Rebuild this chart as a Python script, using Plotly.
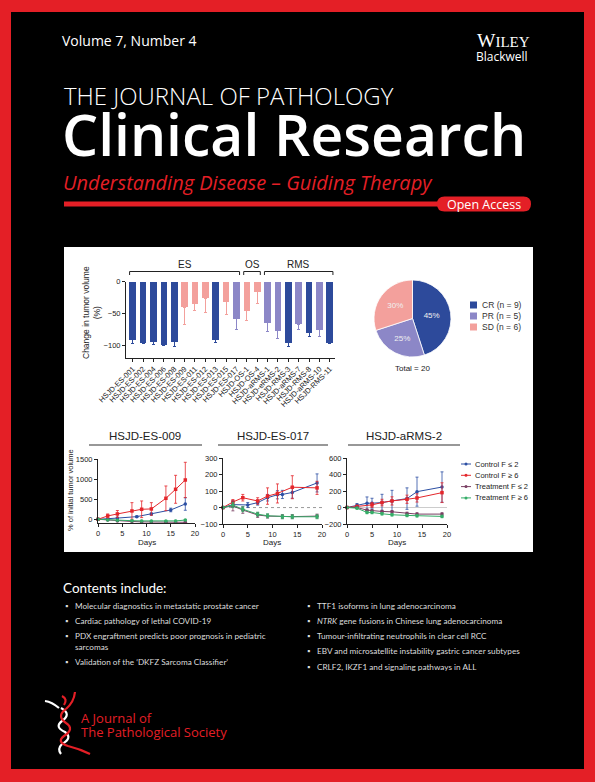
import plotly.graph_objects as go

W, H = 595, 782


def px(x):
    return x / W


def py(y):
    return 1 - y / H


# ---- waterfall bar data (change in tumor volume, %)
models = ["HSJD-ES-001", "HSJD-ES-002", "HSJD-ES-004", "HSJD-ES-006", "HSJD-ES-008",
          "HSJD-ES-009", "HSJD-ES-011", "HSJD-ES-012", "HSJD-ES-013", "HSJD-ES-015",
          "HSJD-ES-017", "HSJD-OS-1", "HSJD-OS-4", "HSJD-aRMS-1", "HSJD-eRMS-2",
          "HSJD-RMS-3", "HSJD-aRMS-7", "HSJD-RMS-8", "HSJD-aRMS-10", "HSJD-RMS-11"]
response = ["CR", "CR", "CR", "CR", "CR", "SD", "SD", "SD", "CR", "SD",
            "PR", "SD", "SD", "PR", "PR", "CR", "PR", "CR", "PR", "CR"]
volume_change = [-92, -96, -95, -99, -94, -40, -35, -26, -91, -32,
                 -58, -45, -15, -65, -77, -96, -67, -80, -76, -96]
volume_sd = [5, 2, 4, 2, 8, 28, 11, 23, 5, 20,
             18, 17, 19, 13, 12, 6, 8, 7, 11, 2]
groups = ["ES", "OS", "RMS"]
group_first = [0, 11, 13]
group_last = [10, 12, 19]

# ---- pie data
resp_codes = ["CR", "PR", "SD"]
resp_labels = ["CR (n = 9)", "PR (n = 5)", "SD (n = 6)"]
resp_counts = [9, 5, 6]

# ---- growth curves (% of initial tumor volume)
series_names = ["Control F \u2264 2", "Control F \u2265 6", "Treatment F \u2264 2", "Treatment F \u2265 6"]

es009_days = [[0, 2, 4, 8, 11, 15, 18],
              [0, 2, 4, 7, 9, 11, 14, 16, 18],
              [0, 2, 4, 7, 9, 11, 14, 16, 18],
              [0, 2, 4, 7, 9, 11, 14, 16, 18]]
es009_vals = [[0, 10, 30, 66, 133, 232, 381],
              [0, 83, 133, 207, 249, 257, 522, 746, 978],
              [0, -20, -40, -55, -65, -70, -75, -75, -75],
              [0, -15, -25, -35, -40, -45, -45, -40, -20]]
es009_err = [[0, 5, 10, 20, 25, 45, 157],
             [0, 50, 85, 207, 207, 157, 307, 348, 440],
             [0, 10, 10, 10, 10, 10, 10, 10, 10],
             [0, 10, 15, 15, 15, 15, 15, 15, 15]]

es017_days = [[0, 2, 5, 7, 9, 11, 12, 14, 19],
              [0, 2, 4, 7, 9, 11, 14, 19],
              [0, 2, 4, 7, 9, 12, 14, 19],
              [0, 2, 4, 7, 9, 12, 14, 19]]
es017_vals = [[0, 18, 16, 30, 60, 78, 80, 92, 150],
              [0, 34, 60, 40, 70, 86, 124, 120],
              [0, 10, -15, -45, -52, -55, -55, -52],
              [0, 15, -10, -40, -50, -56, -56, -56]]
es017_err = [[0, 15, 15, 15, 20, 25, 25, 35, 55],
             [0, 15, 20, 20, 50, 58, 70, 40],
             [0, 30, 20, 15, 12, 12, 12, 12],
             [0, 15, 15, 12, 12, 12, 12, 12]]

arms2_days = [[0, 2, 4, 5, 7, 9, 12, 14, 19],
              [0, 2, 5, 7, 9, 12, 14, 19],
              [0, 2, 4, 5, 7, 9, 12, 14, 19],
              [0, 2, 4, 5, 7, 9, 12, 14, 19]]
arms2_vals = [[0, 28, 52, 52, 60, 80, 108, 192, 248],
              [0, 12, 32, 60, 80, 100, 116, 180],
              [0, 0, -32, -40, -48, -52, -72, -80, -80],
              [0, -8, -60, -60, -76, -88, -96, -100, -108]]
arms2_err = [[0, 20, 76, 60, 100, 128, 130, 176, 184],
             [0, 15, 30, 40, 50, 50, 50, 120],
             [0, 10, 15, 15, 15, 15, 15, 15, 15],
             [0, 10, 15, 15, 15, 15, 15, 15, 15]]

contents_left = ["Molecular diagnostics in metastatic prostate cancer",
                 "Cardiac pathology of lethal COVID-19",
                 "PDX engraftment predicts poor prognosis in pediatric<br>sarcomas",
                 "Validation of the \u2018DKFZ Sarcoma Classifier\u2019"]
contents_right = ["TTF1 isoforms in lung adenocarcinoma",
                  "<i>NTRK</i> gene fusions in Chinese lung adenocarcinoma",
                  "Tumour-infiltrating neutrophils in clear cell RCC",
                  "EBV and microsatellite instability gastric cancer subtypes",
                  "CRLF2, IKZF1 and signaling pathways in ALL"]

RED = "#e41f26"
resp_colors = {"CR": "#2d4a9b", "PR": "#8c87c7", "SD": "#f3a09c"}
series_colors = ["#2c4fa3", "#e4262b", "#7a3f63", "#35ad68"]
TXT = "#222222"
CHART_FONT = "Liberation Sans"
HEAD_FONT = "Open Sans"
BODY_FONT = "Lato"

fig = go.Figure()

# bar chart, one trace per response class so error bars take the bar colour
for code in resp_codes:
    idx = [i for i, r in enumerate(response) if r == code]
    fig.add_trace(go.Bar(
        x=idx, y=[volume_change[i] for i in idx],
        marker=dict(color=resp_colors[code], line=dict(width=0)),
        width=0.64,
        error_y=dict(type="data", symmetric=False, array=[0] * len(idx),
                     arrayminus=[volume_sd[i] for i in idx], color=resp_colors[code],
                     thickness=1, width=1.5),
        xaxis="x", yaxis="y", showlegend=False,
    ))

# pie chart
fig.add_trace(go.Pie(
    labels=resp_labels, values=resp_counts, sort=False, direction="clockwise",
    rotation=0, marker=dict(colors=[resp_colors[c] for c in resp_codes],
                            line=dict(color="white", width=0.8)),
    texttemplate="%{percent:.0%}", textposition="inside",
    textfont=dict(family=CHART_FONT, size=8, color="#f0f0f0"),
    domain=dict(x=[px(374), px(451)], y=[py(357), py(280)]),
    showlegend=False,
))

# growth curves, three panels
panels = [("x2", "y2", es009_days, es009_vals, es009_err),
          ("x3", "y3", es017_days, es017_vals, es017_err),
          ("x4", "y4", arms2_days, arms2_vals, arms2_err)]
for xa, ya, days, vals, errs in panels:
    for i in range(4):
        fig.add_trace(go.Scatter(
            x=days[i], y=vals[i], mode="lines+markers", xaxis=xa, yaxis=ya,
            line=dict(color=series_colors[i], width=1),
            marker=dict(color=series_colors[i], size=3.5, symbol="square" if i == 1 else "circle"),
            error_y=dict(type="data", array=errs[i], color=series_colors[i], thickness=0.8, width=1.5),
            showlegend=False, cliponaxis=False,
        ))

ax_style = dict(showline=True, linecolor=TXT, linewidth=1, ticks="outside", ticklen=3,
                tickwidth=1, tickcolor=TXT, showgrid=False, zeroline=False, automargin=False,
                tickfont=dict(family=CHART_FONT, size=7.5, color=TXT))

fig.update_layout(
    width=W, height=H, margin=dict(l=0, r=0, t=0, b=0, autoexpand=False),
    paper_bgcolor=RED, plot_bgcolor="rgba(0,0,0,0)",
    bargap=0, barmode="overlay",
    xaxis=dict(ax_style, domain=[px(126), px(335)], range=[-0.646, 19.5],
               tickmode="array", tickvals=list(range(len(models))), ticktext=models,
               tickangle=-45, anchor="y"),
    yaxis=dict(ax_style, domain=[py(357.7), py(281.7)], range=[-120, 0],
               tickvals=[0, -50, -100], anchor="x"),
    xaxis2=dict(ax_style, domain=[px(98), px(195)], range=[0, 20], tickvals=[0, 5, 10, 15, 20], anchor="y2"),
    yaxis2=dict(ax_style, domain=[py(523.3), py(459)], range=[-100, 1500],
                tickvals=[0, 500, 1000, 1500], anchor="x2"),
    xaxis3=dict(ax_style, domain=[px(223), px(322)], range=[0, 20], tickvals=[0, 5, 10, 15, 20], anchor="y3"),
    yaxis3=dict(ax_style, domain=[py(524), py(458.3)], range=[-100, 300],
                tickvals=[-100, 0, 100, 200, 300], anchor="x3"),
    xaxis4=dict(ax_style, domain=[px(347), px(447)], range=[0, 20], tickvals=[0, 5, 10, 15, 20], anchor="y4"),
    yaxis4=dict(ax_style, domain=[py(524), py(458)], range=[-200, 600],
                tickvals=[-200, 0, 200, 400, 600], anchor="x4"),
)

shapes = []
# black cover field and white figure panel
shapes.append(dict(type="rect", xref="paper", yref="paper", x0=px(11), x1=px(584), y0=py(769), y1=py(12),
                   fillcolor="black", line=dict(width=0), layer="below"))
shapes.append(dict(type="rect", xref="paper", yref="paper", x0=px(64), x1=px(533), y0=py(552), y1=py(247),
                   fillcolor="white", line=dict(width=0), layer="below"))
# red rule and Open Access pill
shapes.append(dict(type="rect", xref="paper", yref="paper", x0=px(64), x1=px(440), y0=py(206.5), y1=py(201.5),
                   fillcolor=RED, line=dict(width=0)))
r = 7.5
x0, x1, y0, y1 = 437, 531, 196.5, 211.5
pill = (f"M {px(x0 + r)},{py(y0)} L {px(x1 - r)},{py(y0)} "
        f"Q {px(x1)},{py(y0)} {px(x1)},{py(y0 + r)} Q {px(x1)},{py(y1)} {px(x1 - r)},{py(y1)} "
        f"L {px(x0 + r)},{py(y1)} Q {px(x0)},{py(y1)} {px(x0)},{py(y0 + r)} "
        f"Q {px(x0)},{py(y0)} {px(x0 + r)},{py(y0)} Z")
shapes.append(dict(type="path", xref="paper", yref="paper", path=pill, fillcolor=RED, line=dict(width=0)))

# group brackets over the bars
for gi in range(len(groups)):
    a = group_first[gi] - 0.3
    b = group_last[gi] + 0.3
    for xx in (a, b):
        shapes.append(dict(type="line", xref="x", yref="paper", x0=xx, x1=xx, y0=py(275), y1=py(271.5),
                           line=dict(color=TXT, width=1)))
    shapes.append(dict(type="line", xref="x", yref="paper", x0=a, x1=b, y0=py(271.5), y1=py(271.5),
                       line=dict(color=TXT, width=1)))

# title underlines of the growth panels
for a, b in [(89, 202), (218, 328), (348, 460)]:
    shapes.append(dict(type="line", xref="paper", yref="paper", x0=px(a), x1=px(b), y0=py(445), y1=py(445),
                       line=dict(color="#333333", width=1.2)))

# reference lines at 0
shapes.append(dict(type="line", xref="x3", yref="y3", x0=0, x1=20, y0=0, y1=0,
                   line=dict(color="#999999", width=1, dash="dot"), layer="below"))
shapes.append(dict(type="line", xref="x4", yref="y4", x0=0, x1=20, y0=0, y1=0,
                   line=dict(color="#cccccc", width=1), layer="below"))

# pie legend squares
for i, code in enumerate(resp_codes):
    yy = 305 + i * 11
    shapes.append(dict(type="rect", xref="paper", yref="paper", x0=px(470), x1=px(477), y0=py(yy + 3.5),
                       y1=py(yy - 3.5), fillcolor=resp_colors[code], line=dict(width=0)))

# growth legend symbols
for i, name in enumerate(series_names):
    yy = 464 + i * 11.3
    shapes.append(dict(type="line", xref="paper", yref="paper", x0=px(461), x1=px(471), y0=py(yy), y1=py(yy),
                       line=dict(color=series_colors[i], width=1)))
    shapes.append(dict(type="circle", xref="paper", yref="paper", x0=px(464.5), x1=px(467.5),
                       y0=py(yy + 1.5), y1=py(yy - 1.5), fillcolor=series_colors[i],
                       line=dict(width=0)))


# society logo, a rough twisted figure
def path(pts):
    s = f"M {px(pts[0][0])},{py(pts[0][1])}"
    for k in range(1, len(pts) - 1, 2):
        s += f" Q {px(pts[k][0])},{py(pts[k][1])} {px(pts[k + 1][0])},{py(pts[k + 1][1])}"
    return s


white_strokes = [
    [(45, 701), (52, 702), (59, 708)],
    [(61, 708), (72, 714), (62, 721), (54, 727), (65, 732), (73, 738), (62, 744), (57, 749), (61, 754)],
]
red_strokes = [
    [(62, 696), (68, 699), (64, 705)],
    [(75, 692), (74, 702), (66, 709)],
    [(66, 709), (56, 716), (66, 723), (75, 729), (64, 736), (56, 742), (68, 746), (80, 749), (90, 754)],
]
for s in white_strokes:
    shapes.append(dict(type="path", xref="paper", yref="paper", path=path(s),
                       line=dict(color="white", width=2.2)))
for s in red_strokes:
    shapes.append(dict(type="path", xref="paper", yref="paper", path=path(s),
                       line=dict(color=RED, width=2.2)))

fig.update_layout(shapes=shapes)


def note(text, x, y, size, color="white", family=HEAD_FONT, xanchor="left", yanchor="middle",
         weight="normal", style="normal", angle=0, align="left"):
    fig.add_annotation(text=text, x=px(x), y=py(y), xref="paper", yref="paper", showarrow=False,
                       xanchor=xanchor, yanchor=yanchor, textangle=angle, align=align, borderpad=0,
                       font=dict(family=family, size=size, color=color, weight=weight, style=style))


# cover header
note("Volume 7, Number 4", 61, 41, 14)
note("W<span style='font-size:15px'>ILEY</span>", 531, 41, 19.5, family="Liberation Serif", xanchor="right")
note("Blackwell", 529, 57, 12, xanchor="right")
note("THE JOURNAL OF PATHOLOGY", 63, 95, 24, weight=300)
note("Clinical Research", 61, 134, 57, weight=600)
note("Understanding Disease \u2013 Guiding Therapy", 62, 182, 20, color=RED, style="italic")
note("Open Access", 484, 204, 12.5, xanchor="center")

# bar chart labels
for gi, g in enumerate(groups):
    fig.add_annotation(text=g, x=(group_first[gi] + group_last[gi]) / 2, y=py(264.5), xref="x", yref="paper",
                       showarrow=False, font=dict(family=CHART_FONT, size=10, color=TXT))
note("Change in tumor volume<br>(%)", 92, 313, 8.5, color=TXT, family=CHART_FONT, xanchor="center",
     angle=-90, align="center")

# pie labels
for i, lab in enumerate(resp_labels):
    note(lab, 481, 305 + i * 11, 8.5, color="#333333", family=CHART_FONT)
note("Total = " + str(sum(resp_counts)), 412, 368, 8, color=TXT, family=CHART_FONT, xanchor="center")

# growth panels
for title, cx in [("HSJD-ES-009", 145), ("HSJD-ES-017", 273), ("HSJD-aRMS-2", 404)]:
    note(title, cx, 436, 11.5, color=TXT, family=CHART_FONT, xanchor="center")
for cx in (147, 272, 397):
    note("Days", cx, 542.5, 8, color=TXT, family=CHART_FONT, xanchor="center")
note("% of initial tumor volume", 70, 490, 7.5, color=TXT, family=CHART_FONT, xanchor="center", angle=-90)
for i, name in enumerate(series_names):
    note(name, 474, 464 + i * 11.3, 7.5, color=TXT, family=CHART_FONT)

# contents
note("Contents include:", 62, 588, 13.5, family=BODY_FONT)
left_y = [606, 621, 641.5, 662]
for t, yy in zip(contents_left, left_y):
    note("\u25aa", 64, yy - (5.5 if "<br>" in t else 0), 8, color="#dddddd", family=BODY_FONT)
    note(t, 74, yy, 8.2, color="#dddddd", family=BODY_FONT)
right_y = [606, 621, 636, 651, 667]
for t, yy in zip(contents_right, right_y):
    note("\u25aa", 306, yy, 8, color="#dddddd", family=BODY_FONT)
    note(t, 316, yy, 8.2, color="#dddddd", family=BODY_FONT)

# society line
note("A Journal of", 80, 718, 13, color=RED)
note("The Pathological Society", 80, 732, 13, color=RED)

fig.write_html("out.html", config={"displayModeBar": False},
               post_script="document.body.style.margin='0px';")
